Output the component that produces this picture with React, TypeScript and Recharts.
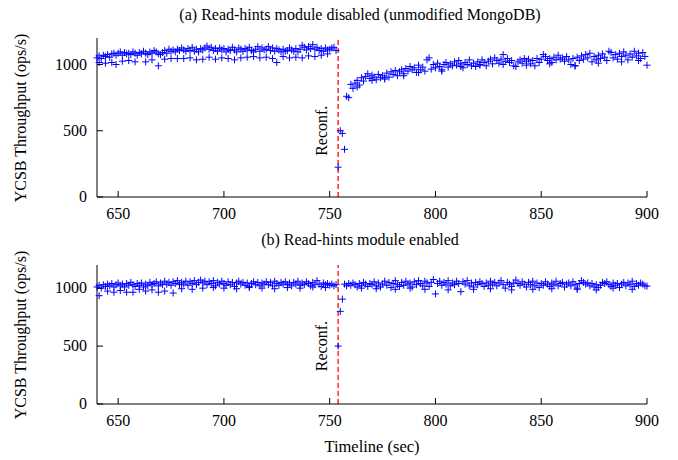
import React from 'react';
import { ScatterChart, Scatter, XAxis, YAxis, ReferenceLine } from 'recharts';

const xTicks = [650, 700, 750, 800, 850, 900];
const yTicks = [0, 500, 1000];
const reconfTime = 754;
const firstSecond = 640;

// (a) module disabled: one sample per second from 640 to 900
const topMain = [
  1050, 1065, 1045, 1070, 1060, 1075, 1055, 1080, 1085, 1070,
  1085, 1095, 1070, 1090, 1080, 1085, 1075, 1095, 1085, 1070,
  1090, 1080, 1100, 1085, 1075, 1095, 1085, 1105, 1095, 1080,
  1075, 1090, 1105, 1085, 1115, 1100, 1110, 1095, 1115, 1105,
  1125, 1110, 1100, 1120, 1105, 1130, 1100, 1115, 1095, 1120,
  1110, 1125, 1140, 1115, 1130, 1105, 1120, 1100, 1125, 1110,
  1120, 1095, 1115, 1105, 1130, 1110, 1095, 1125, 1115, 1100,
  1120, 1110, 1130, 1105, 1095, 1115, 1135, 1100, 1125, 1110,
  1115, 1135, 1105, 1125, 1100, 1120, 1110, 1095, 1115, 1100,
  1105, 1125, 1110, 1100, 1120, 1095, 1115, 1145, 1130, 1110,
  1135, 1120, 1150, 1115, 1130, 1105, 1120, 1100, 1125, 1110,
  1115, 1125, 1130, 1105, 225, 500, 480, 360, 760, 750,
  850, 820, 860, 880, 845, 900, 875, 910, 930, 895,
  920, 905, 885, 925, 900, 915, 890, 935, 905, 945,
  925, 955, 915, 945, 960, 930, 970, 950, 985, 960,
  975, 940, 995, 960, 980, 950, 1035, 1050, 965, 1000,
  975, 1010, 985, 960, 1000, 1015, 980, 1005, 990, 1020,
  995, 1030, 1005, 975, 1015, 1000, 1035, 990, 1010, 985,
  1020, 1000, 1035, 1015, 990, 1025, 1040, 1005, 1050, 1030,
  1010, 1040, 1075, 1025, 1045, 1015, 1030, 990, 985, 1020,
  1035, 1010, 1045, 1025, 1040, 1005, 1030, 990, 1045, 1015,
  1040, 1075, 1060, 1030, 1045, 1015, 1055, 1035, 1070, 1040,
  1050, 1025, 1060, 1035, 1000, 1045, 990, 1055, 1030, 1065,
  1040, 1075, 1050, 1085, 1020, 1060, 1035, 1070, 1045, 1080,
  1055, 1030, 1100, 1090, 1050, 1075, 1040, 1085, 1060, 1095,
  1070, 1035, 1080, 1055, 1100, 1065, 1085, 1045, 1090, 1060,
  995,
];
const topLowT = [
  641, 644, 647, 649, 652, 655, 658, 663, 666, 669, 672, 675, 678, 681, 684, 687, 690, 693, 696,
  699, 702, 705, 708, 711, 714, 717, 720, 723, 725, 728, 731, 734, 737, 740, 743, 746, 749,
  763, 770, 776, 785, 792, 803, 812, 821, 832, 843, 854, 866, 877, 888, 896,
];
const topLowV = [
  1015, 1010, 1015, 1000, 1025, 1030, 1020, 1020, 1035, 990, 1040, 1045, 1045, 1045, 1050, 1035, 1040, 1055, 1040,
  1050, 1045, 1035, 1050, 1055, 1060, 1050, 1055, 1045, 1015, 1060, 1050, 1055, 1050, 1065, 1060, 1070, 1080,
  830, 880, 900, 915, 940, 950, 985, 995, 1000, 995, 1005, 990, 1010, 1020, 1030,
];

// (b) module enabled: one sample per second from 640 to 900
const bottomMain = [
  1010, 1025, 1000, 1030, 1015, 1035, 1020, 1040, 1010, 1030,
  1045, 1020, 1035, 1010, 1040, 1025, 1050, 1030, 1015, 1040,
  1025, 1045, 1010, 1035, 1020, 1050, 1030, 1040, 1055, 1020,
  1045, 1030, 1060, 1035, 1050, 1025, 1055, 1040, 1065, 1030,
  1050, 1035, 1060, 1025, 1055, 1040, 1065, 1030, 1050, 1070,
  1045, 1060, 1030, 1055, 1040, 1065, 1020, 1050, 1035, 1060,
  1040, 1025, 1055, 1030, 1050, 1015, 1045, 1060, 1035, 1050,
  1025, 1045, 1015, 1040, 1055, 1030, 1050, 1020, 1045, 1035,
  1055, 1030, 1050, 1020, 1060, 1040, 1025, 1050, 1035, 1055,
  1030, 1045, 1020, 1050, 1035, 1060, 1025, 1045, 1030, 1055,
  1040, 1020, 1050, 1030, 1065, 1035, 1015, 1045, 1030, 1040,
  1025, 1035, 1020, 1030, 500, 800, 905, 1035, 1020, 1040,
  1025, 1045, 1030, 1010, 1040, 1020, 1050, 1035, 1015, 1040,
  1030, 1055, 1020, 1045, 1010, 1035, 1060, 1025, 1050, 1005,
  1040, 1065, 1030, 1015, 1050, 1025, 1060, 1035, 1045, 1010,
  1055, 1030, 1065, 1040, 1020, 1060, 1045, 1015, 1050, 1075,
  950, 1040, 1060, 1025, 1050, 1035, 1065, 1020, 1045, 1030,
  1060, 1040, 970, 1055, 1035, 1065, 1020, 1045, 1010, 1050,
  1030, 1055, 1040, 1015, 1045, 1025, 1060, 1035, 1050, 1020,
  1045, 1065, 1030, 1000, 1050, 1035, 1015, 1045, 1070, 1040,
  1025, 1055, 1035, 1010, 1050, 1030, 1060, 1020, 1045, 1005,
  1040, 1025, 1055, 1035, 1015, 1045, 1030, 1060, 1020, 1040,
  1050, 1010, 1035, 1045, 1020, 1055, 1030, 1000, 1040, 1065,
  1050, 1035, 1045, 1020, 1040, 1010, 1030, 1005, 1025, 1050,
  1040, 1055, 1030, 1015, 1045, 1025, 1040, 1005, 1035, 1050,
  1020, 1045, 1030, 1060, 1015, 1040, 1025, 1045, 1035, 1020,
  1018,
];
const bottomLowT = [
  641, 645, 648, 651, 654, 657, 660, 663, 666, 669, 672, 676, 680, 685, 690, 695, 700, 706, 712,
  718, 724, 730, 736, 742, 748, 765, 772, 781, 788, 795, 806, 818, 826, 836, 846, 855, 867, 876, 884, 893,
];
const bottomLowV = [
  935, 975, 965, 980, 965, 965, 990, 975, 985, 965, 975, 958, 995, 990, 1000, 1005, 1000, 995, 1005,
  1000, 995, 1005, 1000, 1010, 1005, 1000, 995, 990, 1000, 990, 985, 990, 995, 985, 990, 995, 990, 985, 1000, 990,
];

const FONT = "'Liberation Serif', 'Times New Roman', serif";
const BLUE = '#0000ff';

const perSecond = (vals: number[]) => vals.map((v, i) => ({ t: firstSecond + i, v }));
const pairs = (ts: number[], vs: number[]) => ts.map((t, i) => ({ t, v: vs[i] }));

const Plus = (props: any) => {
  const { cx, cy } = props;
  if (cx == null || cy == null) return null;
  return (
    <path
      d={`M${cx - 3.5},${cy}H${cx + 3.5}M${cx},${cy - 3.5}V${cy + 3.5}`}
      stroke={BLUE}
      strokeWidth={1}
      fill="none"
    />
  );
};

// gnuplot style ticks: drawn inward, labels outside
const BottomTick = ({ x, y, payload }: any) => (
  <g>
    <line x1={x} y1={y} x2={x} y2={y - 6} stroke="#000" />
    <text x={x} y={y + 22} textAnchor="middle" fontFamily={FONT} fontSize={16} fill="#000">
      {payload.value}
    </text>
  </g>
);
const TopTick = ({ x, y }: any) => <line x1={x} y1={y} x2={x} y2={y + 6} stroke="#000" />;
const LeftTick = ({ x, y, payload }: any) => (
  <g>
    <line x1={x} y1={y} x2={x + 6} y2={y} stroke="#000" />
    <text x={x - 10} y={y + 5} textAnchor="end" fontFamily={FONT} fontSize={16} fill="#000">
      {payload.value}
    </text>
  </g>
);
const RightTick = ({ x, y }: any) => <line x1={x} y1={y} x2={x - 6} y2={y} stroke="#000" />;

const ReconfLabel = ({ viewBox }: any) => {
  if (!viewBox) return null;
  const x = viewBox.x - 11;
  const y = viewBox.y + viewBox.height * (1 - 500 / 1200);
  return (
    <text
      x={x}
      y={y}
      transform={`rotate(-90, ${x}, ${y})`}
      textAnchor="middle"
      fontFamily={FONT}
      fontSize={16}
      fill="#000"
    >
      Reconf.
    </text>
  );
};

const Panel = ({ main, low, top, xHeight }: any) => (
  <ScatterChart width={678} height={230} margin={{ top, right: 31, bottom: 0, left: 0 }}>
    <XAxis
      xAxisId="b"
      type="number"
      dataKey="t"
      domain={[640, 900]}
      ticks={xTicks}
      interval={0}
      height={xHeight}
      tickSize={0}
      tickMargin={0}
      tickLine={false}
      axisLine={{ stroke: '#000' }}
      tick={<BottomTick />}
    />
    <XAxis
      xAxisId="t"
      orientation="top"
      type="number"
      domain={[640, 900]}
      ticks={xTicks}
      interval={0}
      height={0}
      tickSize={0}
      tickMargin={0}
      tickLine={false}
      axisLine={{ stroke: '#000' }}
      tick={<TopTick />}
    />
    <YAxis
      yAxisId="l"
      type="number"
      dataKey="v"
      domain={[0, 1200]}
      ticks={yTicks}
      interval={0}
      width={97}
      tickSize={0}
      tickMargin={0}
      tickLine={false}
      axisLine={{ stroke: '#000' }}
      tick={<LeftTick />}
    />
    <YAxis
      yAxisId="r"
      orientation="right"
      type="number"
      domain={[0, 1200]}
      ticks={yTicks}
      interval={0}
      width={0}
      tickSize={0}
      tickMargin={0}
      tickLine={false}
      axisLine={{ stroke: '#000' }}
      tick={<RightTick />}
    />
    <ReferenceLine
      xAxisId="b"
      yAxisId="l"
      x={reconfTime}
      stroke="#ff3333"
      strokeWidth={1.6}
      strokeDasharray="5 3"
      label={<ReconfLabel />}
    />
    <Scatter xAxisId="b" yAxisId="l" data={main} shape={<Plus />} isAnimationActive={false} />
    <Scatter xAxisId="b" yAxisId="l" data={low} shape={<Plus />} isAnimationActive={false} />
  </ScatterChart>
);

const textStyle: React.CSSProperties = {
  position: 'absolute',
  fontFamily: FONT,
  fontSize: 16,
  color: '#000',
  whiteSpace: 'nowrap',
  lineHeight: 1,
};

export default function App() {
  return (
    <div style={{ position: 'absolute', left: 0, top: 0, width: 678, height: 460, background: '#fff' }}>
      <div style={{ position: 'absolute', left: 0, top: 0 }}>
        <Panel main={perSecond(topMain)} low={pairs(topLowT, topLowV)} top={38} xHeight={33} />
      </div>
      <div style={{ position: 'absolute', left: 0, top: 230 }}>
        <Panel main={perSecond(bottomMain)} low={pairs(bottomLowT, bottomLowV)} top={35} xHeight={56} />
      </div>
      <div style={{ ...textStyle, left: 360, top: 15, transform: 'translate(-50%, -50%)' }}>
        (a) Read-hints module disabled (unmodified MongoDB)
      </div>
      <div style={{ ...textStyle, left: 360, top: 240, transform: 'translate(-50%, -50%)' }}>
        (b) Read-hints module enabled
      </div>
      <div style={{ ...textStyle, left: 372, top: 447, fontSize: 16.5, transform: 'translate(-50%, -50%)' }}>
        Timeline (sec)
      </div>
      <div style={{ ...textStyle, left: 21, top: 118, transform: 'translate(-50%, -50%) rotate(-90deg)' }}>
        YCSB Throughput (ops/s)
      </div>
      <div style={{ ...textStyle, left: 21, top: 335, transform: 'translate(-50%, -50%) rotate(-90deg)' }}>
        YCSB Throughput (ops/s)
      </div>
    </div>
  );
}
